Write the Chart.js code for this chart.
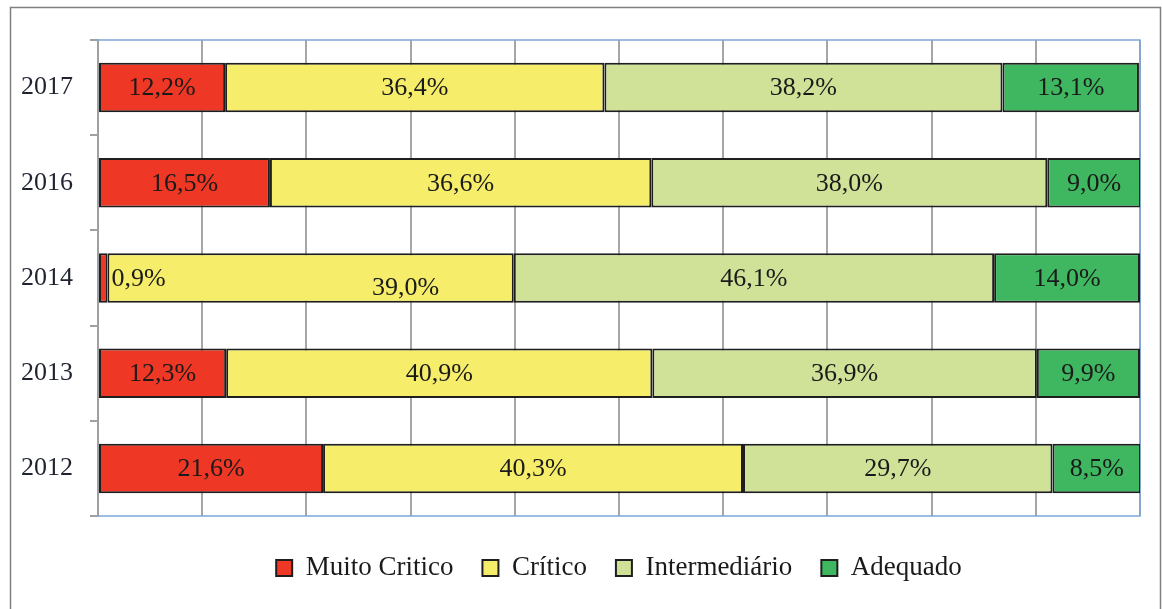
<!DOCTYPE html>
<html>
<head>
<meta charset="utf-8">
<script src="https://cdn.jsdelivr.net/npm/chart.js@4/dist/chart.umd.min.js"></script>
<style>
  html, body { margin: 0; padding: 0; background: #fff; }
  #wrap { width: 1162px; height: 609px; position: relative; }
</style>
</head>
<body>
<div id="wrap"><canvas id="grafico"></canvas></div>
<script>
// ==========================================
// DADOS
// ==========================================
const anos = ["2017", "2016", "2014", "2013", "2012"];
const muitoCritico = [12.2, 16.5, 0.9, 12.3, 21.6];
const critico = [36.4, 36.6, 39.0, 40.9, 40.3];
const intermediario = [38.2, 38.0, 46.1, 36.9, 29.7];
const adequado = [13.1, 9.0, 14.0, 9.9, 8.5];
const nomesSeries = ["Muito Critico", "Crítico", "Intermediário", "Adequado"];

const cores = ["#ee3724", "#f6ee6b", "#cfe298", "#3fb660"];
const fonteSerif = "'Liberation Serif', 'Times New Roman', serif";

// deslocamento manual dos rótulos que se sobrepõem (como no original)
const ajusteRotulo = { "1:2": { dx: 95, dy: 9 } };

// ==========================================
// PLUGINS
// ==========================================
const moldura = {
  id: "moldura",
  beforeDraw(chart) {
    const ctx = chart.ctx;
    ctx.save();
    ctx.strokeStyle = "#808080";
    ctx.lineWidth = 1.5;
    ctx.beginPath();
    ctx.moveTo(10.5, 640);
    ctx.lineTo(10.5, 7.5);
    ctx.lineTo(1160.5, 7.5);
    ctx.lineTo(1160.5, 640);
    ctx.stroke();
    ctx.restore();
  },
  beforeDatasetsDraw(chart) {
    const { ctx, chartArea: a } = chart;
    ctx.save();
    ctx.strokeStyle = "#7ea6dc";
    ctx.lineWidth = 1.5;
    ctx.beginPath();
    ctx.moveTo(a.left, a.top);
    ctx.lineTo(a.right, a.top);
    ctx.lineTo(a.right, a.bottom);
    ctx.lineTo(a.left, a.bottom);
    ctx.stroke();
    ctx.restore();
  },
};

const rotulos = {
  id: "rotulos",
  afterDatasetsDraw(chart) {
    const ctx = chart.ctx;
    ctx.save();
    ctx.font = "26px " + fonteSerif;
    ctx.fillStyle = "#1a1a1a";
    ctx.textBaseline = "middle";
    chart.data.datasets.forEach((ds, di) => {
      const meta = chart.getDatasetMeta(di);
      meta.data.forEach((bar, i) => {
        const txt = ds.data[i].toFixed(1).replace(".", ",") + "%";
        const largura = Math.abs(bar.x - bar.base);
        const w = ctx.measureText(txt).width;
        const aj = ajusteRotulo[di + ":" + i] || { dx: 0, dy: 0 };
        if (w + 4 > largura) {
          ctx.textAlign = "left";
          ctx.fillText(txt, bar.x + 4, bar.y + 1 + aj.dy);
        } else {
          ctx.textAlign = "center";
          ctx.fillText(txt, (bar.x + bar.base) / 2 + aj.dx, bar.y + 1 + aj.dy);
        }
      });
    });
    ctx.restore();
  },
};

// ==========================================
// GRÁFICO
// ==========================================
function criarGrafico() {
  const ctx = document.getElementById("grafico");
  const series = [muitoCritico, critico, intermediario, adequado];

  const data = {
    labels: anos,
    datasets: series.map((valores, k) => ({
      label: nomesSeries[k],
      data: valores,
      backgroundColor: cores[k],
      borderColor: "#1e1e1e",
      borderWidth: 2,
      borderSkipped: false,
      barPercentage: 0.52,
      categoryPercentage: 1,
    })),
  };

  new Chart(ctx, {
    type: "bar",
    data: data,
    options: {
      indexAxis: "y",
      responsive: true,
      maintainAspectRatio: false,
      animation: false,
      layout: { padding: { left: 12, top: 40, right: 22, bottom: 17.5 } },
      scales: {
        x: {
          stacked: true,
          min: 0,
          max: 100,
          ticks: { display: false, stepSize: 10 },
          grid: { color: "#a6a6a6", lineWidth: 2, drawTicks: false },
          border: { display: false },
          afterFit: (s) => { s.height = 9.5; },
        },
        y: {
          stacked: true,
          ticks: {
            color: "#1f2430",
            padding: 17,
            font: { family: fonteSerif, size: 26 },
          },
          grid: {
            drawOnChartArea: false,
            drawTicks: true,
            tickLength: 8,
            color: "#a0a0a0",
            lineWidth: 2,
            offset: true,
          },
          border: { color: "#a0a0a0", width: 2 },
          afterFit: (s) => { s.width = 86; },
        },
      },
      plugins: {
        legend: {
          position: "bottom",
          fullSize: false, // centraliza sob a área do gráfico
          maxHeight: 66,
          labels: {
            boxWidth: 16,
            boxHeight: 16,
            padding: 29,
            color: "#1a1a1a",
            font: { family: fonteSerif, size: 27 },
          },
        },
        tooltip: { enabled: false },
      },
    },
    plugins: [moldura, rotulos],
  });
}

document.addEventListener("DOMContentLoaded", () => {
  try {
    if (typeof Chart === "undefined") {
      console.warn("Chart.js não carregou.");
      return;
    }
    criarGrafico();
  } catch (error) {
    console.error("Falha ao criar o gráfico:", error);
  }
});
</script>
</body>
</html>
